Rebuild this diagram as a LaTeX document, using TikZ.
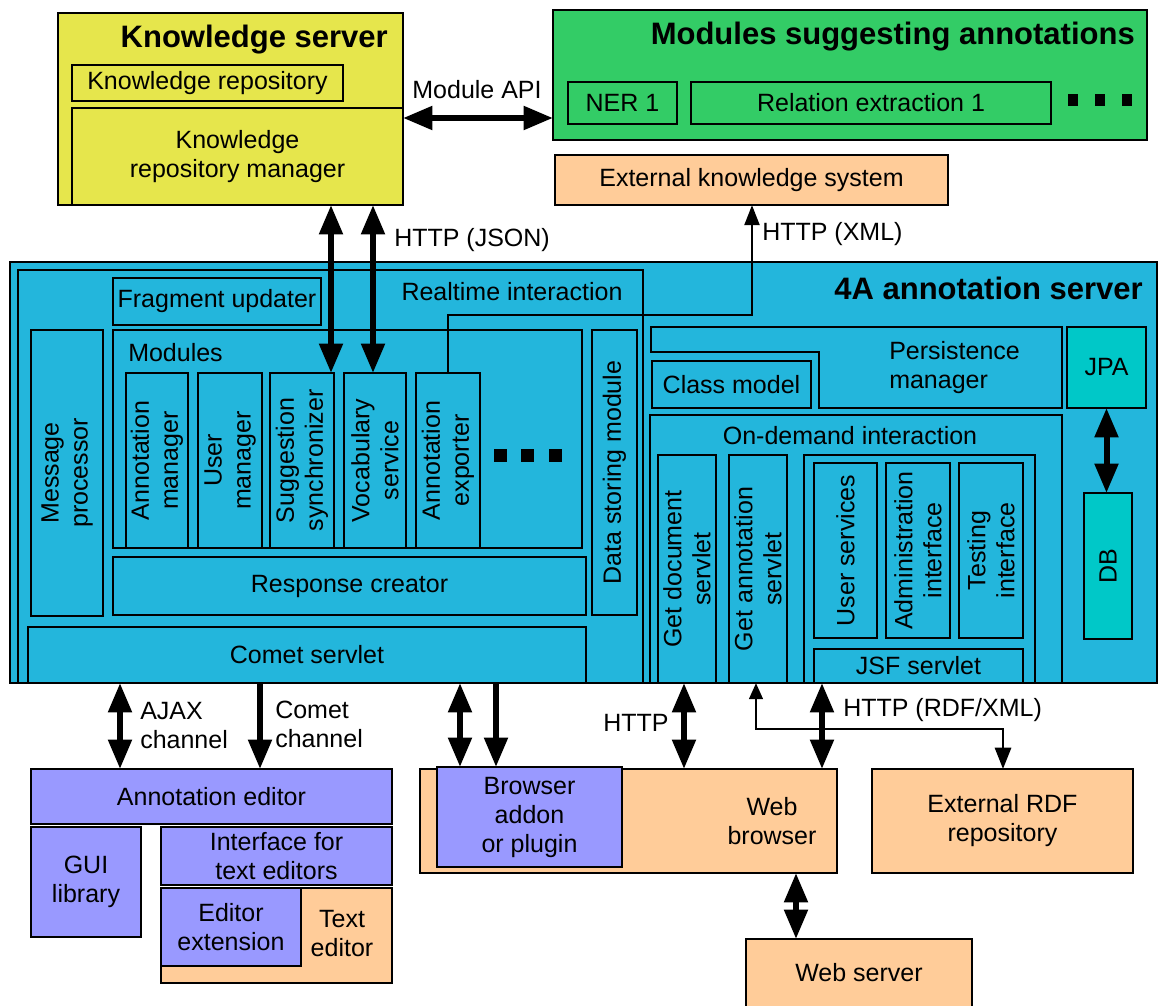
\documentclass[tikz,border=0pt]{standalone}
\usepackage{fontspec}
\setmainfont{Liberation Sans}
\usetikzlibrary{arrows.meta}
\definecolor{ksY}{RGB}{230,230,76}
\definecolor{msG}{RGB}{51,204,102}
\definecolor{orng}{RGB}{255,204,153}
\definecolor{srvB}{RGB}{35,182,220}
\definecolor{tealB}{RGB}{0,200,200}
\definecolor{purp}{RGB}{153,153,255}
\newcommand\bx[7]{\node[#6, anchor=north west, minimum width={(#4-#2)*0.75pt}, minimum height={(#5-#3)*0.75pt}] (#1) at (#2,#3) {#7};}
\begin{document}
\begin{tikzpicture}[x=0.75pt,y=-0.75pt,
  font=\fontsize{18.75pt}{21.75pt}\selectfont,
  box/.style={draw, line width=1pt, inner sep=0pt, outer sep=0pt, align=center},
  txt/.style={inner sep=0pt, align=center},
  vtxt/.style={inner sep=0pt, align=center, rotate=90},
  title/.style={inner sep=0pt, font=\fontsize{23.25pt}{28pt}\selectfont\bfseries},
  bigarr/.style={line width=4.5pt, {Triangle[width=17pt,length=22pt]}-{Triangle[width=17pt,length=22pt]}},
  bigone/.style={line width=4.5pt, -{Triangle[width=17pt,length=22pt]}},
  thinone/.style={line width=2.2pt, -{Triangle[width=11pt,length=15pt]}},
  thinarr/.style={line width=2.2pt, {Triangle[width=10pt,length=12pt]}-{Triangle[width=12pt,length=16pt]}},
  sq/.style={fill=black}
]
\useasboundingbox (0,0) rectangle (1158,1006);
\fill[white] (0,0) rectangle (1158,1006);

% Knowledge server
\bx{ks}{58}{13}{403}{205}{box,fill=ksY}{}
\node[title, anchor=east] (kst) at (388,40) {Knowledge server};
\bx{kr}{72}{65}{343}{101}{box}{Knowledge repository}
\bx{krm}{72}{108}{403}{205}{box}{Knowledge\\repository manager}

% Modules suggesting annotations
\bx{msa}{553}{10}{1147}{140}{box,fill=msG}{}
\node[title, anchor=east] (msat) at (1135,37) {Modules suggesting annotations};
\bx{ner}{568}{82}{677}{124}{box}{NER 1}
\bx{rel}{691}{82}{1051}{124}{box}{Relation extraction 1}
\fill[sq] (1068,94) rectangle (1078,106);
\fill[sq] (1095,94) rectangle (1105,106);
\fill[sq] (1122,94) rectangle (1132,106);

% Module API
\coordinate (apiy) at (0,118);
\node[txt] (apil) at (477,90) {Module API};
\draw[bigarr] (ks.east |- apiy) -- (msa.west |- apiy);

% External knowledge system
\bx{eks}{555}{155}{948}{205}{box,fill=orng}{External knowledge system}

% 4A annotation server
\bx{srv}{10}{262}{1157}{683}{box,fill=srvB}{}
\node[title, anchor=east] (srvt) at (1143,288) {4A annotation server};
\bx{rt}{18}{270}{643}{683}{box}{}
\node[txt] (rtl) at (512,292) {Realtime interaction};
\bx{fu}{113}{278}{321}{325}{box}{Fragment updater}
\bx{mp}{31}{330}{103}{616}{box}{}
\node[vtxt] (mpl) at (mp.center) {Message\\processor};
\bx{mods}{113}{330}{582}{548}{box}{}
\node[txt, anchor=west] (modsl) at (128,353) {Modules};
\bx{am}{126}{373}{188}{548}{box}{}
\node[vtxt] (aml) at (am.center) {Annotation\\manager};
\bx{um}{198}{373}{262}{548}{box}{}
\node[vtxt] (uml) at (um.center) {User\\manager};
\bx{ss}{270}{373}{334}{548}{box}{}
\node[vtxt] (ssl) at (ss.center) {Suggestion\\synchronizer};
\bx{vs}{344}{373}{406}{548}{box}{}
\node[vtxt] (vsl) at (vs.center) {Vocabulary\\service};
\bx{ae}{416}{373}{480}{548}{box}{}
\node[vtxt] (ael) at (ae.center) {Annotation\\exporter};
\fill[sq] (494,449) rectangle (507,462);
\fill[sq] (521,449) rectangle (534,462);
\fill[sq] (549,449) rectangle (562,462);
\bx{rc}{113}{557}{586}{615}{box}{Response creator}
\bx{ds}{592}{330}{637}{615}{box}{}
\node[vtxt] (dsl) at (ds.center) {Data storing module};
\bx{cs}{28}{627}{586}{683}{box}{Comet servlet}

% Persistence
\draw[line width=1pt] (651,327) -- (1062,327) -- (1062,408) -- (819,408) -- (819,352) -- (651,352) -- cycle;
\node[txt, anchor=west, align=left] (pml) at (889,368) {Persistence\\manager};
\bx{cm}{652}{361}{811}{408}{box}{Class model}
\bx{jpa}{1067}{327}{1146}{408}{box,fill=tealB}{JPA}
\bx{db}{1084}{493}{1132}{639}{box,fill=tealB}{}
\node[vtxt] (dbl) at (db.center) {DB};
\draw[bigarr] (jpa.south) -- (jpa.south |- db.north);

% On-demand interaction
\bx{od}{650}{415}{1062}{683}{box}{}
\node[txt] (odl) at (850,436) {On-demand interaction};
\bx{gd}{658}{455}{716}{683}{box}{}
\node[vtxt] (gdl) at (gd.center) {Get document\\servlet};
\bx{ga}{729}{455}{787}{683}{box}{}
\node[vtxt] (gal) at (ga.center) {Get annotation\\servlet};
\bx{jg}{804}{455}{1035}{683}{box}{}
\bx{us}{814}{463}{877}{638}{box}{}
\node[vtxt] (usl) at (us.center) {User services};
\bx{ai}{886}{463}{950}{638}{box}{}
\node[vtxt] (ail) at (ai.center) {Administration\\interface};
\bx{ti}{959}{463}{1023}{638}{box}{}
\node[vtxt] (til) at (ti.center) {Testing\\interface};
\bx{jsf}{814}{649}{1023}{683}{box}{JSF servlet}

% HTTP (JSON)
\coordinate (j1) at (331,0);
\coordinate (j2) at (373,0);
\draw[bigarr] (ks.south -| j1) -- (ss.north -| j1);
\draw[bigarr] (ks.south -| j2) -- (vs.north -| j2);
\node[txt, anchor=west] (jsonl) at (394,240) {HTTP (JSON)};

% HTTP (XML)
\coordinate (xmlc) at (752,315);
\draw[thinone] (ae.north) -- (ae.north |- xmlc) -- (xmlc) -- (xmlc |- eks.south);
\node[txt, anchor=west] (xmll) at (762,234) {HTTP (XML)};

% Client side
\bx{aed}{31}{769}{392}{824}{box,fill=purp}{Annotation editor}
\bx{gui}{31}{827}{141}{937}{box,fill=purp}{GUI\\library}
\bx{ife}{161}{827}{392}{885}{box,fill=purp}{Interface for\\text editors}
\bx{te}{161}{888}{392}{983}{box,fill=orng}{}
\node[txt] (tel) at (342,934) {Text\\editor};
\bx{ee}{161}{888}{301}{966}{box,fill=purp}{Editor\\extension}

\coordinate (ax) at (120,0);
\coordinate (cx) at (260,0);
\draw[bigarr] (srv.south -| ax) -- (aed.north -| ax);
\draw[bigone] (srv.south -| cx) -- (aed.north -| cx);
\node[txt, anchor=west, align=left] (ajl) at (140,726) {AJAX\\channel};
\node[txt, anchor=west, align=left] (cml) at (275,724) {Comet\\channel};

\bx{wb}{420}{769}{837}{873}{box,fill=orng}{}
\node[txt] (wbl) at (772,821) {Web\\browser};
\bx{ba}{437}{767}{622}{867}{box,fill=purp}{Browser\\addon\\or plugin}
\coordinate (bx1) at (460,0);
\coordinate (bx2) at (496,0);
\draw[bigarr] (srv.south -| bx1) -- (ba.north -| bx1);
\draw[bigone] (srv.south -| bx2) -- (ba.north -| bx2);

\coordinate (hx) at (684,0);
\draw[bigarr] (gd.south -| hx) -- (wb.north -| hx);
\node[txt] (httpl) at (636,723) {HTTP};

\bx{rdf}{872}{769}{1133}{873}{box,fill=orng}{External RDF\\repository}
\coordinate (r1) at (756,729);
\coordinate (r2) at (1003,729);
\draw[thinarr] (ga.south -| r1) -- (r1) -- (r2) -- (rdf.north -| r2);
\coordinate (jx) at (822,0);
\draw[bigarr] (jg.south -| jx) -- (wb.north -| jx);
\node[txt, anchor=west] (rdfl) at (843,710) {HTTP (RDF/XML)};

\bx{ws}{746}{939}{972}{1010}{box,fill=orng}{}
\node[txt] (wsl) at (859,973) {Web server};
\coordinate (wx) at (796,0);
\draw[bigarr] (wb.south -| wx) -- (ws.north -| wx);
\end{tikzpicture}
\end{document}
